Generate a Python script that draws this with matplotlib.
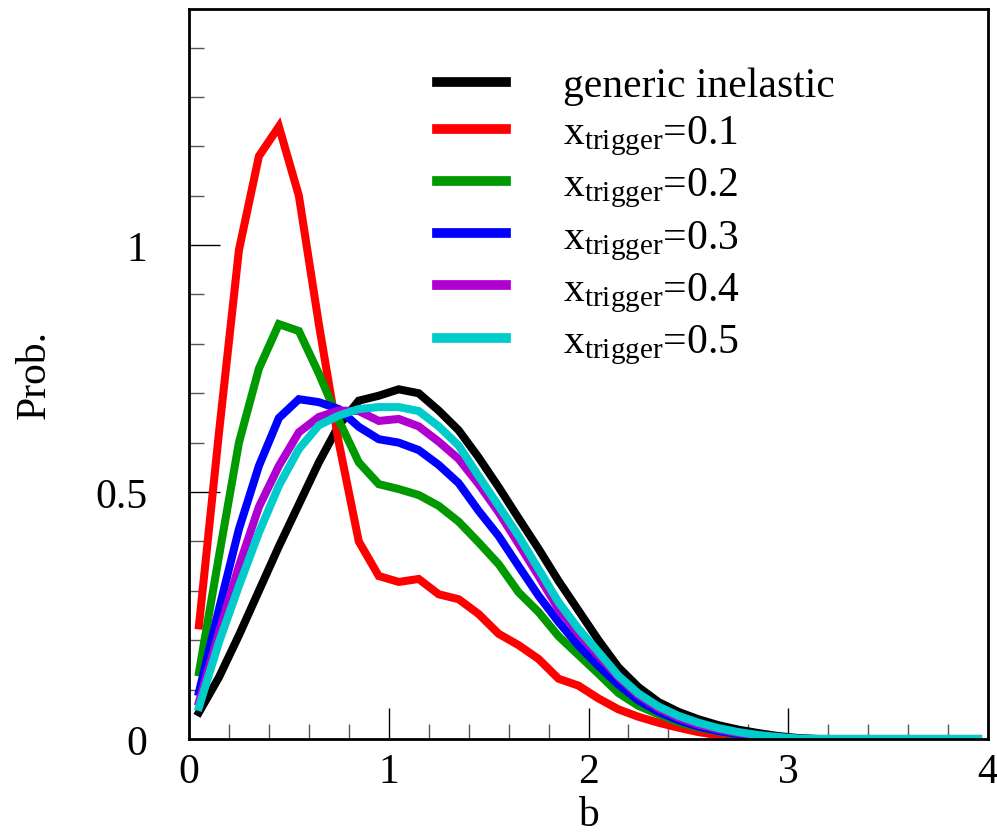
import numpy as np
import matplotlib
matplotlib.use("Agg")
import matplotlib.pyplot as plt
from matplotlib.ticker import MultipleLocator

plt.rcParams['font.family'] = ['Liberation Serif', 'DejaVu Serif']
plt.rcParams['mathtext.fontset'] = 'custom'
plt.rcParams['mathtext.rm'] = 'Liberation Serif'
plt.rcParams['mathtext.it'] = 'Liberation Serif:italic'

# bin centres of impact parameter b
b = np.round(np.arange(0.05, 4.0, 0.1), 2)

generic = [0.054, 0.125, 0.21, 0.30, 0.39, 0.475, 0.56, 0.635, 0.685, 0.695,
           0.708, 0.70, 0.665, 0.625, 0.57, 0.51, 0.447, 0.385, 0.32, 0.26,
           0.20, 0.145, 0.105, 0.075, 0.055, 0.04, 0.028, 0.019, 0.012, 0.006,
           0.002, 0, 0, 0, 0, 0, 0, 0, 0, 0]
x01 = [0.23, 0.62, 0.99, 1.18, 1.24, 1.10, 0.84, 0.60, 0.40, 0.33,
       0.318, 0.324, 0.293, 0.283, 0.253, 0.213, 0.19, 0.162, 0.122, 0.108,
       0.082, 0.06, 0.045, 0.033, 0.023, 0.014, 0.008, 0.004, 0.002, 0.001,
       0, 0, 0, 0, 0, 0, 0, 0, 0, 0]
x02 = [0.135, 0.37, 0.60, 0.75, 0.84, 0.826, 0.74, 0.645, 0.56, 0.516,
       0.506, 0.494, 0.472, 0.44, 0.398, 0.354, 0.297, 0.257, 0.208, 0.17,
       0.132, 0.093, 0.067, 0.05, 0.034, 0.023, 0.015, 0.009, 0.004, 0.002,
       0, 0, 0, 0, 0, 0, 0, 0, 0, 0]
x03 = [0.095, 0.263, 0.425, 0.553, 0.65, 0.688, 0.682, 0.668, 0.632, 0.607,
       0.60, 0.585, 0.555, 0.518, 0.462, 0.411, 0.35, 0.29, 0.237, 0.189,
       0.148, 0.11, 0.078, 0.055, 0.038, 0.025, 0.016, 0.01, 0.005, 0.002,
       0, 0, 0, 0, 0, 0, 0, 0, 0, 0]
x04 = [0.075, 0.216, 0.35, 0.47, 0.553, 0.621, 0.652, 0.665, 0.664, 0.644,
       0.648, 0.633, 0.602, 0.567, 0.516, 0.459, 0.395, 0.33, 0.263, 0.213,
       0.168, 0.125, 0.088, 0.062, 0.043, 0.029, 0.019, 0.012, 0.007, 0.003,
       0, 0, 0, 0, 0, 0, 0, 0, 0, 0]
x05 = [0.065, 0.196, 0.31, 0.418, 0.513, 0.587, 0.635, 0.655, 0.668, 0.672,
       0.672, 0.664, 0.633, 0.594, 0.532, 0.472, 0.411, 0.344, 0.277, 0.223,
       0.176, 0.128, 0.092, 0.066, 0.047, 0.033, 0.022, 0.014, 0.008, 0.004,
       0.001, 0, 0, 0, 0, 0, 0, 0, 0, 0]

series = [generic, x01, x02, x03, x04, x05]
labels = ['generic inelastic',
          r'x$_{\mathrm{trigger}}$=0.1',
          r'x$_{\mathrm{trigger}}$=0.2',
          r'x$_{\mathrm{trigger}}$=0.3',
          r'x$_{\mathrm{trigger}}$=0.4',
          r'x$_{\mathrm{trigger}}$=0.5']
colors = ['#000000', '#ff0000', '#009900', '#0000ff', '#b000d0', '#00cccc']

fig = plt.figure(figsize=(9.97, 8.37), dpi=100)
ax = fig.add_axes([189/997, 97/837, 799/997, 730/837])

for y, lab, c in zip(series, labels, colors):
    ax.plot(b, y, color=c, lw=5.8, label=lab, solid_joinstyle='miter')

ax.set_xlim(0, 4)
ax.set_ylim(0, 1.478)
ax.xaxis.set_major_locator(MultipleLocator(1))
ax.xaxis.set_minor_locator(MultipleLocator(0.2))
ax.yaxis.set_major_locator(MultipleLocator(0.5))
ax.yaxis.set_minor_locator(MultipleLocator(0.1))
ax.set_xticks([0, 1, 2, 3, 4])
ax.set_xticklabels(['0', '1', '2', '3', '4'])
ax.set_yticks([0, 0.5, 1])
ax.set_yticklabels(['0', '0.5', '1'])

ax.tick_params(which='both', direction='in', top=False, right=False, labelsize=30)
ax.tick_params(which='major', length=22, width=1.0, color='black')
ax.tick_params(which='minor', length=11, width=1.0, color='#555555')
ax.tick_params(axis='y', which='major', pad=30)
ax.tick_params(axis='x', which='major', pad=10)
for s in ax.spines.values():
    s.set_linewidth(2.0)

ax.set_xlabel('b', fontsize=30, labelpad=3)
ax.set_ylabel('Prob.', fontsize=30, labelpad=30)

leg = ax.legend(loc='upper left', bbox_to_anchor=(0.31, 0.921), frameon=False,
                fontsize=30, handlelength=1.67, handletextpad=1.35,
                borderpad=0, borderaxespad=0, labelspacing=0.21)
for h in leg.get_lines():
    h.set_linewidth(7)

fig.savefig('out.png', dpi=100)
